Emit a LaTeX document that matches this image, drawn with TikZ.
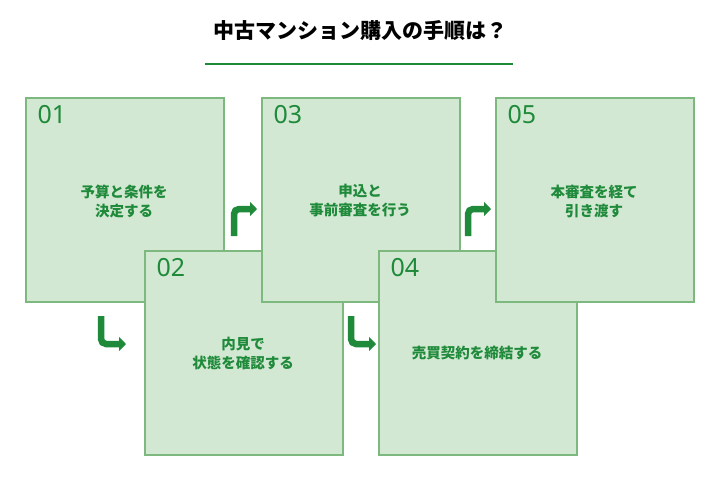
\documentclass[tikz,border=0pt]{standalone}
\usepackage{fontspec}
\setmainfont{Noto Sans CJK JP}
\newfontfamily\numfont{Noto Sans}
\usetikzlibrary{arrows.meta}
\definecolor{gfill}{HTML}{D3E8D3}
\definecolor{gline}{HTML}{7DB87F}
\definecolor{gtext}{HTML}{1E8A3A}
\tikzset{
 stepbox/.style={draw=gline,line width=1.6pt,fill=gfill,minimum width=198pt,minimum height=204pt,anchor=north west,inner sep=0pt},
 numlbl/.style={font=\numfont\fontsize{25}{25}\selectfont,text=gtext,anchor=north west},
 bodylbl/.style={font=\bfseries\fontsize{14.5}{19}\selectfont,text=gtext,align=center},
 bentarrow/.style={draw=gtext,line width=6.5pt,rounded corners=5pt,-{Triangle[length=7pt,width=14pt]}},
}
\begin{document}
\begin{tikzpicture}[x=1pt,y=-1pt]
\useasboundingbox (0,0) rectangle (720,480);
\node (title) at (360,31) {\bfseries\fontsize{21}{21}\selectfont 中古マンション購入の手順は？};
\coordinate (l1) at (205,64); \coordinate (l2) at (513,64);
\draw[gtext,line width=1.5pt] (l1) -- (l2);
\node[stepbox] (b1) at (25,97) {};
\node[stepbox] (b2) at (144,250) {};
\node[stepbox] (b3) at (261,97) {};
\node[stepbox] (b4) at (378,250) {};
\node[stepbox] (b5) at (495,97) {};
\foreach \b/\n in {b1/01,b2/02,b3/03,b4/04,b5/05}
  \node[numlbl] at ([xshift=9pt,yshift=-5pt]\b.north west) {\n};
\node[bodylbl] at (124,201) {予算と条件を\\決定する};
\node[bodylbl] at (243,353) {内見で\\状態を確認する};
\node[bodylbl] at (360,201) {申込と\\事前審査を行う};
\node[bodylbl] at (477,353) {売買契約を締結する};
\node[bodylbl] at (594,201) {本審査を経て\\引き渡す};
\coordinate (a1s) at (101,316); \coordinate (a1c) at (101,344); \coordinate (a1e) at (126,344);
\draw[bentarrow] (a1s) -- (a1c) -- (a1e);
\coordinate (a2s) at (234,236); \coordinate (a2c) at (234,209); \coordinate (a2e) at (257,209);
\draw[bentarrow] (a2s) -- (a2c) -- (a2e);
\coordinate (a3s) at (351,316); \coordinate (a3c) at (351,344); \coordinate (a3e) at (376,344);
\draw[bentarrow] (a3s) -- (a3c) -- (a3e);
\coordinate (a4s) at (468,236); \coordinate (a4c) at (468,209); \coordinate (a4e) at (491,209);
\draw[bentarrow] (a4s) -- (a4c) -- (a4e);
\end{tikzpicture}
\end{document}
